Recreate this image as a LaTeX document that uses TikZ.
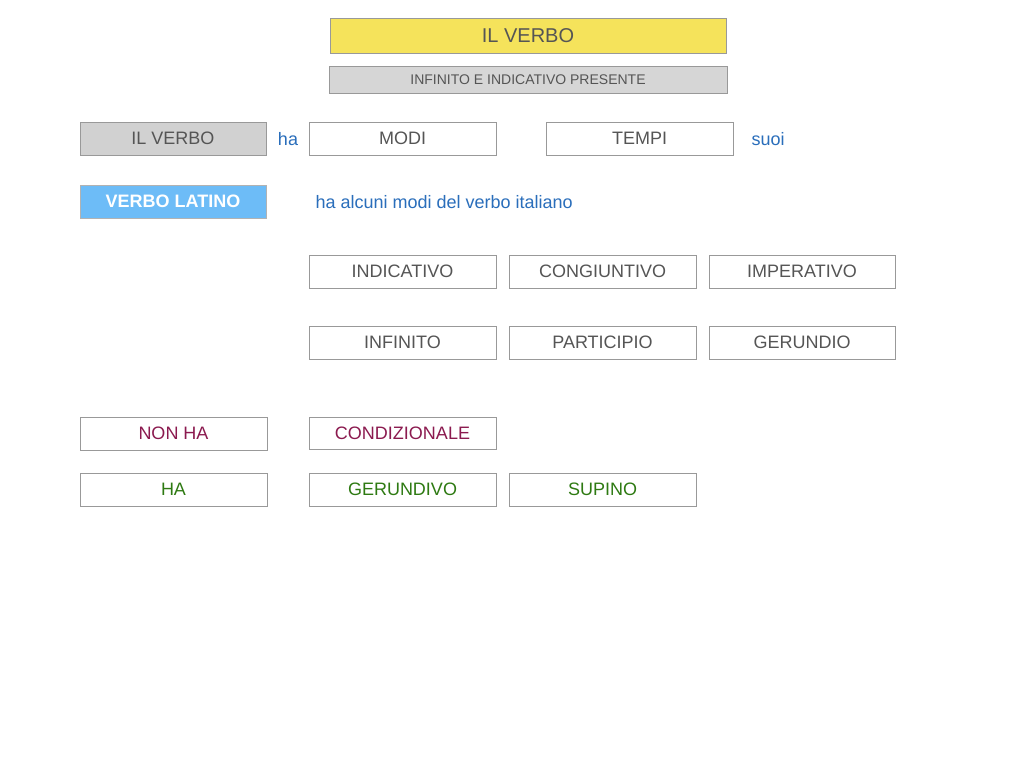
\documentclass[tikz,border=0pt]{standalone}
\usepackage{fontspec}
\setmainfont{Liberation Sans}
\definecolor{tgray}{HTML}{555555}
\definecolor{bblue}{HTML}{2A6EBB}
\definecolor{wine}{HTML}{8B1A4F}
\definecolor{gr}{HTML}{2E7A12}
\definecolor{yel}{HTML}{F5E35B}
\definecolor{lblue}{HTML}{6DBCF7}
\begin{document}
\begin{tikzpicture}[x=1pt,y=-1pt,
 bx/.style={draw=black!40,line width=0.8pt,fill=white,text=tgray,font=\fontsize{18}{20}\selectfont},
 lbl/.style={text=bblue,font=\fontsize{18}{20}\selectfont}]
\useasboundingbox[fill=white] (0,0) rectangle (1024,768);
\newcommand\bb[6]{\draw[bx,#6] (#1,#2) rectangle (#3,#4) node[midway,text=tgray,#6] (#5) {};}
\draw[bx,fill=yel] (330,18) rectangle (726,53) node[midway,font=\fontsize{20}{22}\selectfont,text=tgray] (t) {IL VERBO};
\draw[bx,fill=black!16] (329,66) rectangle (727,93) node[midway,font=\fontsize{14}{16}\selectfont,text=tgray] (s) {INFINITO E INDICATIVO PRESENTE};
\draw[bx,fill=black!18] (80,122) rectangle (266,155) node[midway,text=tgray,font=\fontsize{18}{20}\selectfont] (v) {IL VERBO};
\node[lbl] (ha) at (288,139) {ha};
\draw[bx] (309,122) rectangle (496,155) node[midway,text=tgray,font=\fontsize{18}{20}\selectfont] (m) {MODI};
\draw[bx] (546,122) rectangle (733,155) node[midway,text=tgray,font=\fontsize{18}{20}\selectfont] (tp) {TEMPI};
\node[lbl] (suoi) at (768,139) {suoi};
\draw[bx,draw=black!30,fill=lblue] (80,185) rectangle (266,218) node[midway,text=white,font=\fontsize{18}{20}\selectfont\bfseries] (vl) {VERBO LATINO};
\node[lbl,anchor=west] (al) at (312,202) {ha alcuni modi del verbo italiano};
\foreach \n/\a/\b/\c/\d/\t/\col in {i1/309/255/496/288/INDICATIVO/tgray, i2/509/255/696/288/CONGIUNTIVO/tgray, i3/709/255/895/288/IMPERATIVO/tgray,
 j1/309/326/496/359/INFINITO/tgray, j2/509/326/696/359/PARTICIPIO/tgray, j3/709/326/895/359/GERUNDIO/tgray,
 n1/80/417/267/450/NON HA/wine, n2/309/417/496/449/CONDIZIONALE/wine,
 h1/80/473/267/506/HA/gr, h2/309/473/496/506/GERUNDIVO/gr, h3/509/473/696/506/SUPINO/gr}
 \draw[bx] (\a,\b) rectangle (\c,\d) node[midway,text=\col,font=\fontsize{18}{20}\selectfont] (\n) {\t};
\end{tikzpicture}
\end{document}
